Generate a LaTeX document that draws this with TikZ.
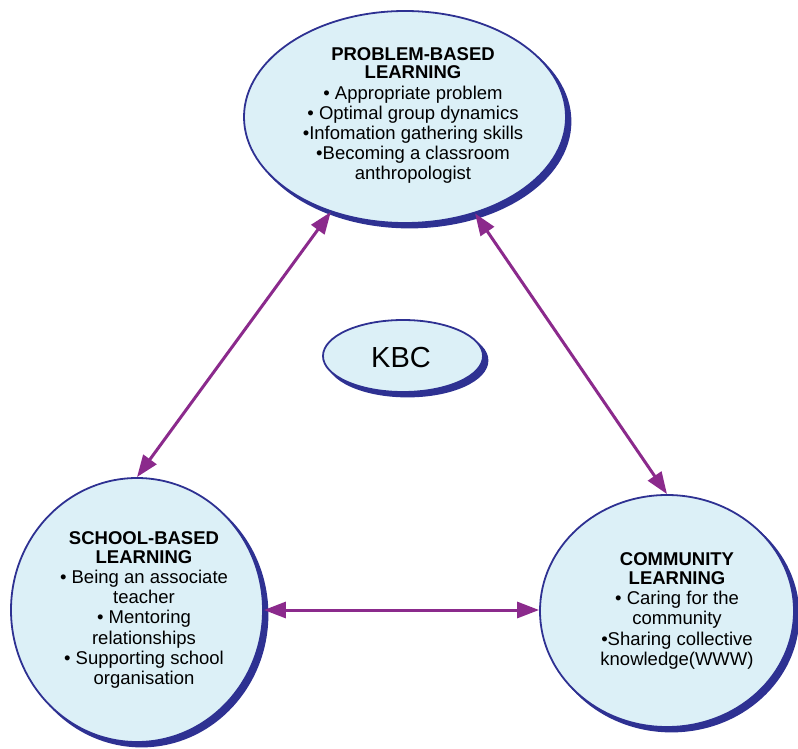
\documentclass[tikz,border=0pt]{standalone}
\usepackage{fontspec}
\setmainfont{Liberation Sans}
\usetikzlibrary{shapes.geometric,arrows.meta,shadows}
\definecolor{fillblue}{HTML}{DCF0F7}
\definecolor{edgeblue}{HTML}{2E3192}
\definecolor{arrowpurple}{HTML}{8B2A8C}
\begin{document}
\begin{tikzpicture}[x=1pt,y=-1pt,
  bubble/.style={ellipse,fill=fillblue,draw=edgeblue,line width=1.8pt,inner sep=0pt,
    general shadow={shadow xshift=4.5pt,shadow yshift=-4.5pt,fill=edgeblue,draw=edgeblue}},
  label/.style={align=center,inner sep=0pt,font=\fontsize{18.5}{20.2}\selectfont},
  link/.style={arrowpurple,line width=3pt,{Triangle[length=22pt,width=16pt]}-{Triangle[length=22pt,width=16pt]}}]
\useasboundingbox (0,0) rectangle (798,749);
\node[bubble,minimum width=322pt,minimum height=212pt] (pbl) at (405,117) {};
\node[bubble,minimum width=252pt,minimum height=264pt] (sbl) at (137,610) {};
\node[bubble,minimum width=254pt,minimum height=232pt] (cl) at (667,611) {};
\node[bubble,minimum width=160pt,minimum height=72pt] (kbc) at (403,356) {};
\node[label] (pbltext) at ([xshift=8pt,yshift=1.5pt]pbl.center)
  {\textbf{PROBLEM-BASED}\\[-1.5pt]\textbf{LEARNING}\\ • Appropriate problem\\ • Optimal group dynamics\\ •Infomation gathering skills\\ •Becoming a classroom\\ anthropologist};
\node[label] (sbltext) at ([xshift=7pt,yshift=0pt]sbl.center)
  {\textbf{SCHOOL-BASED}\\[-1.5pt]\textbf{LEARNING}\\ • Being an associate\\ teacher\\ • Mentoring\\ relationships\\ • Supporting school\\ organisation};
\node[label] (cltext) at ([xshift=10pt,yshift=0pt]cl.center)
  {\textbf{COMMUNITY}\\[-1.5pt]\textbf{LEARNING}\\ • Caring for the\\ community\\ •Sharing collective\\ knowledge(WWW)};
\node[label,font=\fontsize{29}{32}\selectfont] (kbctext) at ([xshift=-2pt,yshift=-2pt]kbc.center) {KBC};
\draw[link] (pbl.232) -- (sbl.north);
\draw[link] (pbl.-54) -- (cl.north);
\draw[link] (sbl.east) -- (sbl.east -| cl.west);
\end{tikzpicture}
\end{document}
